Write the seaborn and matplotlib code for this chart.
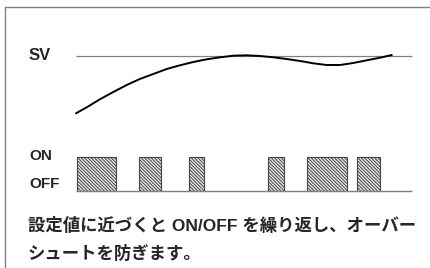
import matplotlib
matplotlib.use("Agg")
import matplotlib.pyplot as plt
import seaborn as sns
import pandas as pd
from matplotlib.lines import Line2D

# process value approaching the set value (time in %, value in % of SV)
time_pts = [0, 3.2, 7.1, 11.1, 15.1, 19.0, 23.0, 27.0, 30.95, 34.9, 38.9, 42.9,
            46.8, 50.8, 54.8, 58.7, 62.7, 66.7, 70.6, 74.6, 78.6, 82.5, 86.5, 90.5, 94.0]
pv_pts = [71.35, 74.35, 78.35, 82.0, 85.5, 88.5, 91.0, 93.5, 95.35, 97.0, 98.35, 99.35,
          100.15, 100.35, 100.0, 99.35, 98.5, 97.5, 96.35, 95.5, 95.5, 96.5, 97.85, 99.15, 100.5]
sv_level = 100
t_end = 100

# ON periods of the output
on_start = [0.3, 18.75, 33.6, 57.1, 68.75, 83.6]
on_end = [11.9, 25.3, 38.1, 61.9, 80.65, 90.5]

labels = ["SV", "ON", "OFF"]
caption = ["設定値に近づくと ON/OFF を繰り返し、オーバー", "シュートを防ぎます。"]

sns.set_style("white")
plt.rcParams["font.family"] = ["Liberation Sans", "Noto Sans CJK JP", "DejaVu Sans"]
plt.rcParams["hatch.linewidth"] = 0.7

W, H = 431, 268
fig = plt.figure(figsize=(W / 100, H / 100), dpi=100)

x0, px = 76, 3.36  # pixel of t=0, pixels per time unit
xlim = (-x0 / px, (W - x0) / px)

# top: process value curve
ax1 = fig.add_axes([0, 1 - 120 / H, 1, 80 / H])
ax1.set_xlim(*xlim)
ax1.set_ylim(68, 108)
ax1.hlines(sv_level, 0, t_end, color="#808080", lw=0.9)
df = pd.DataFrame({"t": time_pts, "pv": pv_pts})
sns.lineplot(data=df, x="t", y="pv", ax=ax1, color="black", lw=1.4)
ax1.axis("off")

# bottom: ON/OFF output
ax2 = fig.add_axes([0, 1 - 195 / H, 1, 45 / H])
ax2.set_xlim(*xlim)
ax2.set_ylim(-0.134, 1.209)
widths = [e - s for s, e in zip(on_start, on_end)]
ax2.bar(on_start, [1] * len(on_start), width=widths, align="edge",
        color="#e8e8e8", edgecolor="#444444", hatch="\\" * 10, lw=0.8)
ax2.hlines(0, 0, t_end, color="#808080", lw=1.0)
ax2.axis("off")

# frame
fig.add_artist(Line2D([5 / W, 5 / W], [0, 1 - 7 / H], color="#808080", lw=1.0))
fig.add_artist(Line2D([5 / W, 1], [1 - 7 / H, 1 - 7 / H], color="#808080", lw=1.0))

# labels
fig.text(29 / W, 1 - 56 / H, labels[0], fontsize=12, fontweight="bold", va="center")
fig.text(29 / W, 1 - 156 / H, labels[1], fontsize=11, fontweight="bold", va="center")
fig.text(29 / W, 1 - 184 / H, labels[2], fontsize=11, fontweight="bold", va="center")
fig.text(28 / W, 1 - 225 / H, caption[0], fontsize=12.5, fontweight="bold", va="center")
fig.text(28 / W, 1 - 253 / H, caption[1], fontsize=12.5, fontweight="bold", va="center")

fig.savefig("out.png", dpi=100, facecolor="white")
